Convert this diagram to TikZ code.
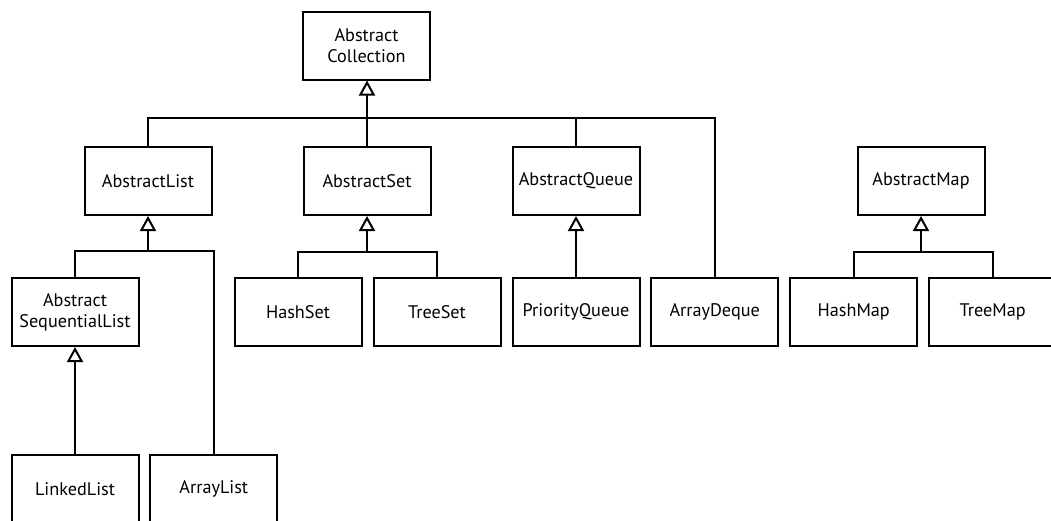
\documentclass[tikz,border=0pt]{standalone}
\usepackage{fontspec}
\setmainfont{PT Sans}
\usetikzlibrary{arrows.meta}
\tikzset{
  cls/.style={draw, line width=2pt, minimum width=127pt, minimum height=68pt, inner sep=0pt, align=center, font=\fontsize{18.2}{21.3}\selectfont},
  link/.style={line width=2pt},
  inh/.style={line width=2pt, -{Triangle[open, width=16pt, length=15pt, line width=2pt]}}
}
\begin{document}
\begin{tikzpicture}[x=1pt,y=-1pt]
\useasboundingbox (0,0) rectangle (1051,520);
\node[cls] (coll) at (366.5,45.5) {Abstract\\Collection};
\node[cls] (alist) at (148,181) {AbstractList};
\node[cls] (aset) at (367,181) {AbstractSet};
\node[cls] (aqueue) at (576,181) {AbstractQueue};
\node[cls] (amap) at (921,181) {AbstractMap};
\node[cls] (aseq) at (75,312) {Abstract\\SequentialList};
\node[cls] (hashset) at (298,312) {HashSet};
\node[cls] (treeset) at (437,312) {TreeSet};
\node[cls] (pq) at (576,312) {PriorityQueue};
\node[cls] (deque) at (714.7,312) {ArrayDeque};
\node[cls] (hashmap) at (853.7,312) {HashMap};
\node[cls] (treemap) at (992.7,312) {TreeMap};
\node[cls] (linked) at (75,489) {LinkedList};
\node[cls] (arraylist) at (213.8,489) {ArrayList};
% collection
\coordinate (b1) at (coll.south |- 0,118);
\draw[inh] (aset.north) -- (aset.north |- coll.south);
\draw[link] (alist.north) |- (b1);
\draw[link] (aqueue.north) |- (b1);
\draw[link] (deque.north) |- (b1);
% list
\coordinate (b2) at (alist.south |- 0,250.5);
\draw[inh] (b2) -- (alist.south);
\draw[link] (aseq.north) |- (b2);
\draw[link] (arraylist.north) |- (b2);
\draw[inh] (linked.north) -- (aseq.south);
% set
\coordinate (b3) at (aset.south |- 0,252);
\draw[inh] (b3) -- (aset.south);
\draw[link] (hashset.north) |- (b3);
\draw[link] (treeset.north) |- (b3);
% queue
\draw[inh] (pq.north) -- (aqueue.south);
% map
\coordinate (b4) at (amap.south |- 0,252);
\draw[inh] (b4) -- (amap.south);
\draw[link] (hashmap.north) |- (b4);
\draw[link] (treemap.north) |- (b4);
\end{tikzpicture}
\end{document}
